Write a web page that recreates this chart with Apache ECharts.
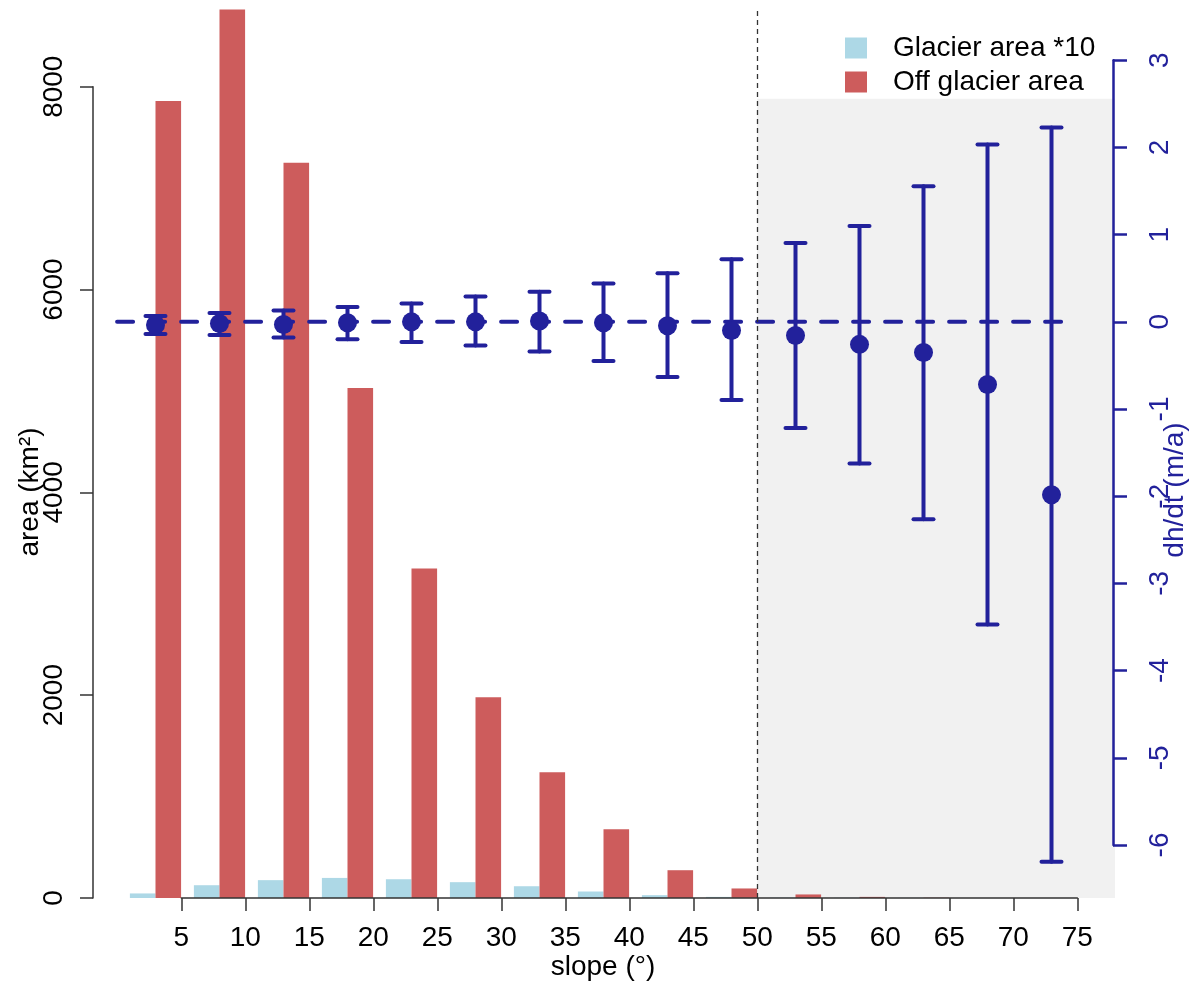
<!DOCTYPE html>
<html><head><meta charset="utf-8">
<script src="https://cdn.jsdelivr.net/npm/echarts@6/dist/echarts.min.js"></script>
<style>html,body{margin:0;padding:0;background:#fff}#c{width:1198px;height:982px}</style>
</head><body><div id="c"></div>
<script>
// ---- data ----
const binStart = [0,5,10,15,20,25,30,35,40,45,50,55,60,65,70];
const slopeTicks = [5,10,15,20,25,30,35,40,45,50,55,60,65,70,75];
const glacierArea10 = [45,126,176,198,185,156,116,64,28,11,4,2,1,0,0];
const offGlacierArea = [7860,8760,7250,5030,3250,1980,1240,678,274,94,35,11,3,0,0];
const dhMean = [-0.035,-0.02,-0.03,-0.01,0.0,0.0,0.01,-0.01,-0.045,-0.10,-0.157,-0.258,-0.351,-0.719,-1.983];
const dhLow  = [-0.14,-0.15,-0.18,-0.20,-0.23,-0.27,-0.34,-0.45,-0.633,-0.897,-1.216,-1.623,-2.263,-3.471,-6.19];
const dhHigh = [0.067,0.10,0.13,0.17,0.21,0.29,0.345,0.44,0.556,0.717,0.905,1.099,1.556,2.033,2.227];
const areaTicks = [0,2000,4000,6000,8000];
const dhTicks = [-6,-5,-4,-3,-2,-1,0,1,2,3];
const zeroLineExtent = [0,74];
const cutoffSlope = 50;

// ---- styles / layout ----
const FONT = "'Liberation Sans', Arial, sans-serif";
const BLUE = '#22219B';
const RED = '#CD5C5C';
const LBLUE = '#ADD8E6';
const FS = 28;

const glacierData = binStart.map((b,i)=>[b+2, glacierArea10[i]]);
const offData = binStart.map((b,i)=>[b+4, offGlacierArea[i]]);
const errData = binStart.map((b,i)=>[b+3, dhLow[i], dhHigh[i]]);
const ptData = binStart.map((b,i)=>[b+3, dhMean[i]]);

const chart = echarts.init(document.getElementById('c'), null, {renderer:'canvas'});

function renderErr(params, api){
  const x = api.value(0), lo = api.value(1), hi = api.value(2);
  const t = api.coord([x, hi]), b = api.coord([x, lo]);
  const cap = 10;
  const st = {stroke: BLUE, lineWidth: 4, lineCap: 'round'};
  return {type:'group', children:[
    {type:'line', shape:{x1:t[0], y1:t[1], x2:b[0], y2:b[1]}, style: st},
    {type:'line', shape:{x1:t[0]-cap, y1:t[1], x2:t[0]+cap, y2:t[1]}, style: st},
    {type:'line', shape:{x1:b[0]-cap, y1:b[1], x2:b[0]+cap, y2:b[1]}, style: st}
  ]};
}

const option = {
  animation: false,
  backgroundColor: '#fff',
  textStyle: {fontFamily: FONT},
  grid: [
    {left: 92, right: 83, top: 9, bottom: 84, outerBoundsMode: 'none'},       // main plot
    {left: 93, right: 1104, top: 86.7, bottom: 84, outerBoundsMode: 'none'},  // left axis
    {left: 1113, right: 84, top: 60.2, bottom: 137, outerBoundsMode: 'none'}, // right axis
    {left: 181.3, right: 120.7, top: 800, bottom: 84, outerBoundsMode: 'none'} // x axis
  ],
  xAxis: [
    {gridIndex:0, type:'value', min:-1.96, max:77.96, show:false},
    {gridIndex:1, type:'value', show:false},
    {gridIndex:2, type:'value', show:false},
    {gridIndex:3, type:'value', min:slopeTicks[0], max:slopeTicks[slopeTicks.length-1], interval:5,
     position:'bottom', z:10,
     axisLine:{lineStyle:{color:'#333', width:1.5}},
     axisTick:{length:13, lineStyle:{color:'#333', width:1.5}},
     axisLabel:{fontSize:FS, color:'#000', margin:26, fontFamily:FONT,
       formatter: v => slopeTicks.includes(v) ? String(v) : ''},
     splitLine:{show:false}}
  ],
  yAxis: [
    {gridIndex:0, type:'value', min:0, max:8766, show:false},
    {gridIndex:0, type:'value', min:-6.606, max:3.587, show:false},
    {gridIndex:1, type:'value', min:areaTicks[0], max:areaTicks[areaTicks.length-1], interval:2000,
     position:'left', z:10,
     axisLine:{show:true, lineStyle:{color:'#333', width:1.5}},
     axisTick:{show:true, length:13, lineStyle:{color:'#333', width:1.5}},
     axisLabel:{rotate:90, fontSize:FS, color:'#000', margin:25, fontFamily:FONT,
       formatter: v => areaTicks.includes(v) ? String(v) : ''},
     splitLine:{show:false}},
    {gridIndex:2, type:'value', min:dhTicks[0], max:dhTicks[dhTicks.length-1], interval:1,
     position:'right', z:10,
     axisLine:{show:true, lineStyle:{color:BLUE, width:2.5}},
     axisTick:{show:true, length:14, lineStyle:{color:BLUE, width:2.5}},
     axisLabel:{rotate:90, fontSize:FS, color:BLUE, margin:32, fontFamily:FONT,
       formatter: v => dhTicks.includes(v) ? String(v) : ''},
     splitLine:{show:false}},
    {gridIndex:3, type:'value', show:false}
  ],
  legend: {
    orient:'vertical', left: 840, top: 29, itemWidth: 22, itemHeight: 21, itemGap: 6,
    icon: 'rect',
    textStyle:{fontSize:FS, color:'#000', fontFamily:FONT, padding:[0,0,0,21]},
    data:['Glacier area *10','Off glacier area']
  },
  series: [
    {name:'Glacier area *10', type:'bar', xAxisIndex:0, yAxisIndex:0, data: glacierData,
     barWidth: 25.6, barGap:'-100%', itemStyle:{color:LBLUE}, z:3,
     markArea:{silent:true, itemStyle:{color:'#F1F1F1'},
       data:[[{xAxis:cutoffSlope, yAxis:0},{xAxis:77.96, yAxis:7880}]]}},
    {name:'Off glacier area', type:'bar', xAxisIndex:0, yAxisIndex:0, data: offData,
     barWidth: 25.6, barGap:'-100%', itemStyle:{color:RED}, z:3,
     markLine:{silent:true, symbol:['none','none'], label:{show:false},
       lineStyle:{color:'#333', type:[5,4], width:1.3},
       data:[{xAxis:cutoffSlope}]}},
    {name:'zero', type:'line', xAxisIndex:0, yAxisIndex:1,
     data: zeroLineExtent.map(x => [x, 0]),
     symbol:'none', lineStyle:{color:BLUE, width:4, type:[16,16], cap:'round'}, z:4},
    {name:'err', type:'custom', xAxisIndex:0, yAxisIndex:1, data: errData,
     renderItem: renderErr, encode:{x:0, y:[1,2]}, z:5},
    {name:'dh', type:'scatter', xAxisIndex:0, yAxisIndex:1, data: ptData,
     symbol:'circle', symbolSize:19, itemStyle:{color:BLUE, opacity:1}, z:6}
  ],
  graphic: [
    {type:'text', x:30, y:492, rotation:Math.PI/2,
     style:{text:'area (km²)', fontSize:FS, fontFamily:FONT, fill:'#000', textAlign:'center', textVerticalAlign:'middle'}},
    {type:'text', x:1175, y:490, rotation:Math.PI/2,
     style:{text:'dh/dt (m/a)', fontSize:FS, fontFamily:FONT, fill:BLUE, textAlign:'center', textVerticalAlign:'middle'}},
    {type:'text', x:603, y:967,
     style:{text:'slope (°)', fontSize:FS, fontFamily:FONT, fill:'#000', textAlign:'center', textVerticalAlign:'middle'}}
  ]
};
chart.setOption(option);
</script>
</body></html>
